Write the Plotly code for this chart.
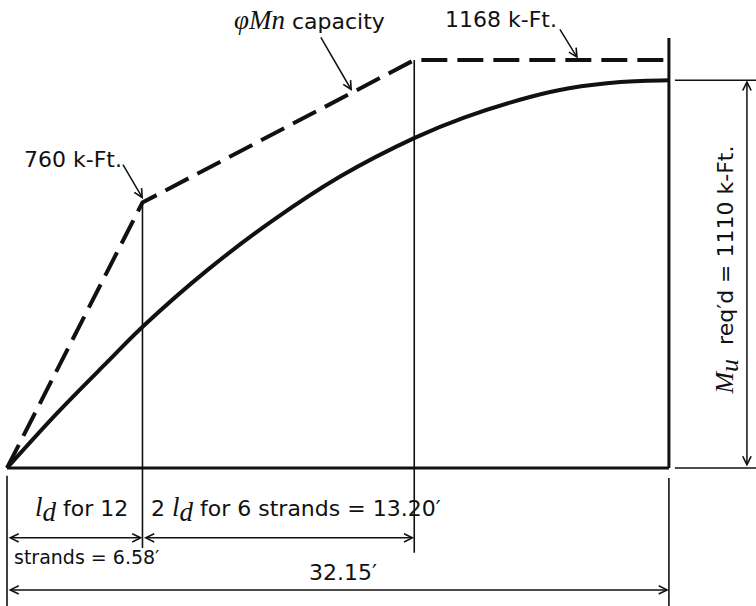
import plotly.graph_objects as go

# Span geometry (ft) and moments (k-ft)
span_half = 32.15
ld_12 = 6.58
ld_6_extra = 13.20
x_full_dev = ld_12 + ld_6_extra  # 19.78

# Design capacity (phi Mn) envelope
cap_x = [0, ld_12, x_full_dev, span_half]
cap_y = [0, 760, 1168, 1168]

# Required factored moment Mu along the span
mu_x = [0, 2.4, 4.9, 6.6, 9.7, 12.9, 16.2, 19.8, 22.2, 25.4, 27.3, 29.8, span_half]
mu_y = [0, 155, 305, 405, 565, 708, 835, 945, 1003, 1062, 1087, 1105, 1110]

mu_max = 1110

BLACK = "#111111"
SANS = "DejaVu Sans"
SERIF = "Liberation Serif"

fig = go.Figure()

# capacity envelope (dashed)
fig.add_trace(go.Scatter(x=cap_x, y=cap_y, mode="lines",
                         line=dict(color=BLACK, width=4, dash="26px,10px"),
                         hoverinfo="skip"))
# required moment curve
fig.add_trace(go.Scatter(x=mu_x, y=mu_y, mode="lines", line_shape="spline",
                         line=dict(color=BLACK, width=4, smoothing=1.0), hoverinfo="skip"))

shapes = []


def seg(x0, y0, x1, y1, w=1.6):
    shapes.append(dict(type="line", xref="x", yref="y", x0=x0, y0=y0, x1=x1, y1=y1,
                       line=dict(color=BLACK, width=w)))


# baseline and midspan line
seg(0, 0, span_half, 0, 3)
seg(span_half, 0, span_half, 1231, 3)
# development length lines
seg(ld_12, cap_y[1], ld_12, -229)
seg(x_full_dev, cap_y[2], x_full_dev, -243)
# extension lines for the bottom dimensions
seg(0, -22, 0, -400)
seg(span_half, -29, span_half, -400)
# extension lines for the Mu dimension
seg(32.44, mu_max, 37, mu_max)
seg(32.44, 0, 37, 0)

annotations = []


def dim_arrow(x0, y0, x1, y1):
    annotations.append(dict(x=x1, y=y1, ax=x0, ay=y0, xref="x", yref="y", axref="x", ayref="y",
                            text="", showarrow=True, arrowside="end+start",
                            arrowhead=5, startarrowhead=5, arrowsize=1.1, startarrowsize=1.1,
                            arrowwidth=1.5, arrowcolor=BLACK))


def pointer(x0, y0, x1, y1):
    annotations.append(dict(x=x1, y=y1, ax=x0, ay=y0, xref="x", yref="y", axref="x", ayref="y",
                            text="", showarrow=True, arrowhead=5, arrowsize=1.1,
                            arrowwidth=1.5, arrowcolor=BLACK))


def label(x, y, text, size=22, xanchor="center", angle=0):
    annotations.append(dict(x=x, y=y, xref="x", yref="y", text=text, showarrow=False,
                            xanchor=xanchor, yanchor="middle", textangle=angle,
                            font=dict(family=SANS, size=size, color=BLACK)))


# dimension arrows
dim_arrow(0, -200, ld_12, -200)
dim_arrow(ld_12, -200, x_full_dev, -200)
dim_arrow(0, -349, span_half, -349)
dim_arrow(35.94, 0, 35.94, mu_max)

# pointers to the capacity envelope
pointer(5.59, 873, 6.61, 770)
pointer(15.2, 1237, 16.76, 1079)
pointer(26.81, 1260, 27.73, 1172)


def ital(s, size):
    return "<span style=\"font-family:'%s';font-style:italic;font-size:%dpx\">%s</span>" % (SERIF, size, s)


ld = ital("l", 27) + "<sub>" + ital("d", 27) + "</sub>"

label(3.2, 882, "760 k-Ft.")
label(14.67, 1283, ital("φMn", 27) + " capacity")
label(24.0, 1283, "1168 k-Ft.")
label(34.97, 568, ital("M", 26) + "<sub>" + ital("u", 26) + "</sub>" + "  req′d = 1110 k-Ft.", angle=-90)
label(3.6, -118, ld + " for 12")
label(14.05, -118, "2 " + ld + " for 6 strands = 13.20′")
label(0.25, -255, "strands = 6.58′", size=19, xanchor="left")
label(16.3, -300, "32.15′")

fig.update_layout(
    width=756, height=606,
    margin=dict(l=0, r=0, t=0, b=0),
    paper_bgcolor="white", plot_bgcolor="white",
    showlegend=False,
    shapes=shapes, annotations=annotations,
    xaxis=dict(range=[-0.34, 36.38], visible=False, fixedrange=True),
    yaxis=dict(range=[-395.1, 1339.8], visible=False, fixedrange=True),
)

fig.write_html("out.html")
